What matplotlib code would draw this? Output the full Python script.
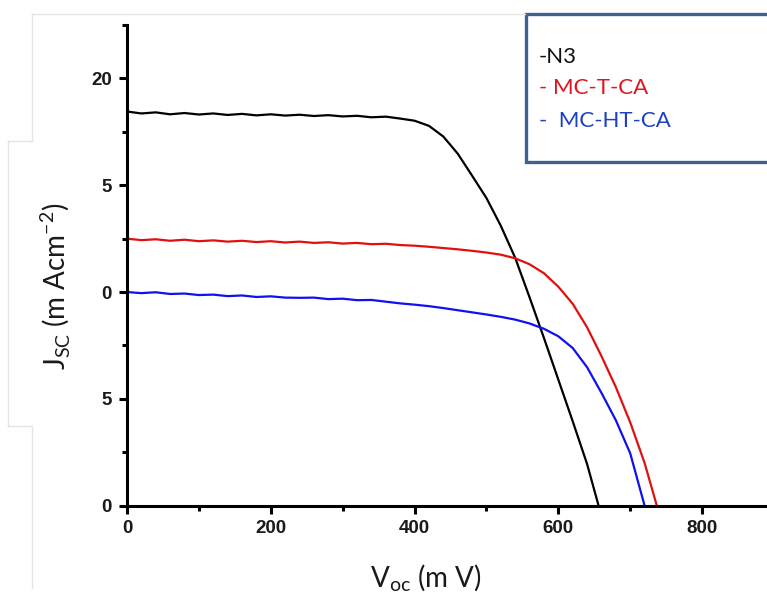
import matplotlib
matplotlib.use("Agg")
import matplotlib.pyplot as plt
from matplotlib.lines import Line2D
from matplotlib.patches import Rectangle
from matplotlib.ticker import MultipleLocator

# ---- data ----
v_n3 = [0, 20, 40, 60, 80, 100, 120, 140, 160, 180, 200, 220, 240, 260, 280, 300, 320, 340,
        360, 380, 400, 420, 440, 460, 480, 500, 520, 540, 560, 580, 600, 620, 640, 656]
j_n3 = [18.45, 18.36, 18.41, 18.32, 18.38, 18.31, 18.36, 18.29, 18.34, 18.27, 18.32, 18.26,
        18.30, 18.24, 18.28, 18.22, 18.25, 18.18, 18.21, 18.12, 18.02, 17.78, 17.28, 16.48,
        15.45, 14.40, 13.10, 11.60, 9.75, 7.85, 5.90, 3.95, 1.95, 0.0]

v_mct = [0, 20, 40, 60, 80, 100, 120, 140, 160, 180, 200, 220, 240, 260, 280, 300, 320, 340,
         360, 380, 400, 420, 440, 460, 480, 500, 520, 540, 560, 580, 600, 620, 640, 660, 680,
         700, 720, 737]
j_mct = [12.50, 12.43, 12.47, 12.40, 12.45, 12.38, 12.42, 12.36, 12.40, 12.34, 12.38, 12.32,
         12.36, 12.30, 12.33, 12.27, 12.30, 12.24, 12.26, 12.20, 12.17, 12.12, 12.06, 12.00,
         11.93, 11.85, 11.75, 11.58, 11.30, 10.88, 10.25, 9.45, 8.35, 7.00, 5.55, 3.90, 2.00, 0.0]

v_mcht = [0, 20, 40, 60, 80, 100, 120, 140, 160, 180, 200, 220, 240, 260, 280, 300, 320, 340,
          360, 380, 400, 420, 440, 460, 480, 500, 520, 540, 560, 580, 600, 620, 640, 660, 680,
          700, 720]
j_mcht = [10.00, 9.95, 9.99, 9.91, 9.93, 9.86, 9.88, 9.81, 9.84, 9.77, 9.80, 9.74, 9.73,
          9.74, 9.67, 9.69, 9.62, 9.63, 9.55, 9.47, 9.41, 9.34, 9.25, 9.15, 9.05, 8.95, 8.84,
          8.71, 8.53, 8.28, 7.93, 7.38, 6.48, 5.28, 4.00, 2.45, 0.0]

ytick_vals = [0, 5, 10, 15, 20]
ytick_labels = ["0", "5", "0", "5", "20"]
xtick_vals = [0, 200, 400, 600, 800]
xtick_labels = ["0", "200", "400", "600", "800"]

legend_texts = ["-N3", "- MC-T-CA", "-  MC-HT-CA"]
legend_colors = ["#111111", "#e0141e", "#1f3fc4"]

# ---- figure ----
W, H = 767, 603
fig = plt.figure(figsize=(W / 100, H / 100), dpi=100)
fig.patch.set_facecolor("white")

def fx(px):
    return px / W

def fy(py):
    return 1 - py / H

# faint frame lines from the original composite
gray = "#e4e4e4"
for (x0, y0, x1, y1) in [(32, 14, 525, 14), (32, 14, 32, 141), (32, 428, 32, 588),
                         (8, 141, 32, 141), (8, 141, 8, 426), (8, 426, 32, 426)]:
    fig.add_artist(Line2D([fx(x0), fx(x1)], [fy(y0), fy(y1)], color=gray, lw=1.0))

ax = fig.add_axes([fx(127), fy(505.7), fx(774) - fx(127), fy(25) - fy(505.7)])
ax.set_xlim(0, 900)
ax.set_ylim(0, 22.5)
ax.patch.set_alpha(0)

ax.plot(v_n3, j_n3, color="black", lw=1.6)
ax.plot(v_mct, j_mct, color="#e01010", lw=1.6)
ax.plot(v_mcht, j_mcht, color="#1010f0", lw=1.6)

for s in ["top", "right"]:
    ax.spines[s].set_visible(False)
for s in ["left", "bottom"]:
    ax.spines[s].set_linewidth(2.2)

ax.set_xticks(xtick_vals)
ax.set_xticklabels(xtick_labels)
ax.set_yticks(ytick_vals)
ax.set_yticklabels(ytick_labels)
ax.xaxis.set_minor_locator(MultipleLocator(100))
ax.yaxis.set_minor_locator(MultipleLocator(2.5))
ax.tick_params(which="major", direction="out", length=6, width=2.2)
ax.tick_params(which="minor", direction="out", length=3.5, width=2.2)
ax.tick_params(axis="y", pad=5)
ax.tick_params(axis="x", pad=4)
for lab in ax.get_xticklabels() + ax.get_yticklabels():
    lab.set_fontfamily("Liberation Sans")
    lab.set_fontweight("bold")
    lab.set_fontsize(13.5)
    lab.set_color("#1a1a1a")

# axis labels
fig.text(fx(56), fy(286), r"J$_{\mathregular{SC}}$ (m Acm$^{\mathregular{-2}}$)", rotation=90,
         ha="center", va="center", fontsize=20, family="Lato", color="#1a1a1a")
fig.text(fx(426), fy(578), r"V$_{\mathregular{oc}}$ (m V)", ha="center", va="center",
         fontsize=20, family="Lato", color="#1a1a1a")

# legend box
fig.add_artist(Rectangle((fx(526), fy(162)), fx(260), fy(14) - fy(162), transform=fig.transFigure,
                         facecolor="white", edgecolor="#41608c", lw=2.4))
for txt, col, yy in zip(legend_texts, legend_colors, [57, 88, 121]):
    fig.text(fx(539), fy(yy), txt, ha="left", va="center", fontsize=16, family="Lato", color=col)

fig.savefig("out.png", dpi=100)
